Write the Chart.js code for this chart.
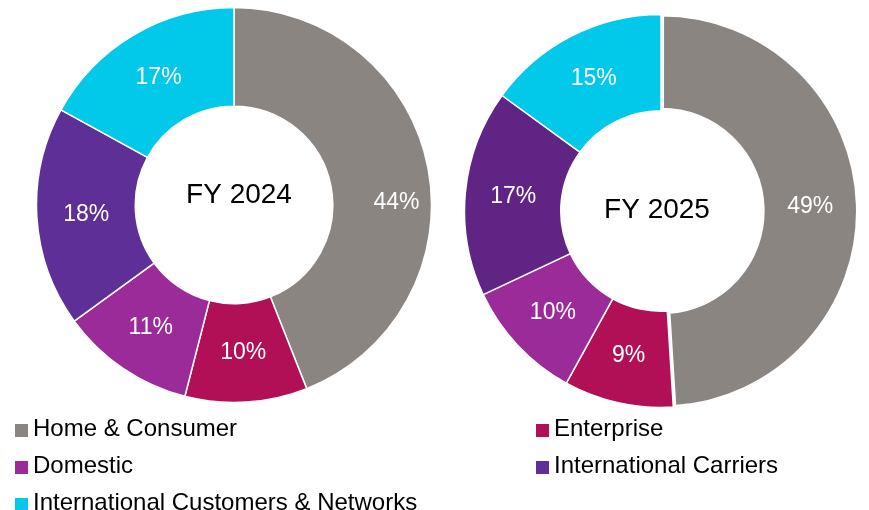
<!DOCTYPE html>
<html lang="en">
<head>
    <meta charset="UTF-8">
    <title>Revenue mix FY 2024 vs FY 2025</title>
    <script src="https://cdn.jsdelivr.net/npm/chart.js"></script>
    <style>
        body {
            margin: 0;
            width: 869px;
            height: 510px;
            background: #fff;
            font-family: "Liberation Sans", Arial, sans-serif;
            position: relative;
            overflow: hidden;
        }
        .donut {
            position: absolute;
            width: 400px;
            height: 400px;
        }
        #left-box { left: 34px; top: 5px; }
        #right-box { left: 461px; top: 11px; }
        #legend {
            position: absolute;
            left: 15px;
            top: 409px;
            width: 850px;
            display: grid;
            grid-template-columns: 521px auto;
        }
        .item {
            height: 37px;
            line-height: 37px;
            font-size: 24px;
            color: #000;
            white-space: nowrap;
        }
        .item span.box {
            display: inline-block;
            width: 13px;
            height: 13px;
            margin-right: 5px;
            vertical-align: -1px;
        }
    </style>
</head>
<body>
    <div class="donut" id="left-box"><canvas id="chart-2024" width="400" height="400"></canvas></div>
    <div class="donut" id="right-box"><canvas id="chart-2025" width="400" height="400"></canvas></div>
    <div id="legend"></div>

    <script>
        // Данные
        const categories = ['Home & Consumer', 'Enterprise', 'Domestic', 'International Carriers', 'International Customers & Networks'];
        const share2024 = [44, 10, 11, 18, 17];
        const share2025 = [49, 9, 10, 17, 15];
        const years = ['FY 2024', 'FY 2025'];

        const colors2024 = ['#8a8581', '#b10f56', '#9b2b98', '#5e2f96', '#02c8e9'];
        const colors2025 = ['#8a8581', '#b10f56', '#9b2b98', '#602584', '#02c8e9'];

        const FONT = '"Liberation Sans", Arial, sans-serif';

        // подписи долей и заголовок в центре
        const sliceLabels = {
            id: 'sliceLabels',
            afterDatasetsDraw(chart, args, opts) {
                const ctx = chart.ctx;
                const meta = chart.getDatasetMeta(0);
                const values = chart.data.datasets[0].data;
                ctx.save();
                ctx.textAlign = 'center';
                ctx.textBaseline = 'middle';
                ctx.fillStyle = '#fff';
                ctx.font = '23px ' + FONT;
                meta.data.forEach(function(arc, i) {
                    const p = arc.tooltipPosition();
                    const nudge = (opts.nudge && opts.nudge[i]) || [0, 0];
                    ctx.fillText(values[i] + '%', p.x + nudge[0], p.y + nudge[1]);
                });
                const c = meta.data[0];
                ctx.fillStyle = '#000';
                ctx.font = '28px ' + FONT;
                ctx.fillText(opts.title, c.x + opts.titleShift[0], c.y + opts.titleShift[1]);
                ctx.restore();
            }
        };

        function makeDonut(id, values, colors, cfg) {
            return new Chart(document.getElementById(id), {
                type: 'doughnut',
                data: {
                    labels: categories,
                    datasets: [{
                        data: values,
                        backgroundColor: colors,
                        borderColor: '#fff',
                        borderWidth: cfg.borderWidth,
                        offset: cfg.offset,
                        hoverOffset: 0
                    }]
                },
                options: {
                    responsive: false,
                    animation: false,
                    radius: cfg.radius,
                    cutout: cfg.cutout,
                    layout: { padding: 0 },
                    events: [],
                    plugins: {
                        legend: { display: false },
                        tooltip: { enabled: false },
                        sliceLabels: {
                            title: cfg.title,
                            titleShift: cfg.titleShift,
                            nudge: cfg.nudge
                        }
                    }
                },
                plugins: [sliceLabels]
            });
        }

        makeDonut('chart-2024', share2024, colors2024, {
            title: years[0],
            radius: 197.5,
            cutout: '50%',
            borderWidth: 1.5,
            offset: 0,
            titleShift: [5, -10],
            nudge: { 0: [17, 25] }
        });

        // серый сегмент чуть смещён и уже, как на исходнике
        makeDonut('chart-2025', share2025, colors2025, {
            title: years[1],
            radius: 196.5,
            cutout: '51%',
            borderWidth: [5, 1.5, 1.5, 1.5, 1.5],
            offset: [2, 0, 0, 0, 0],
            titleShift: [-4, -1],
            nudge: {}
        });

        // Легенда
        const legend = document.getElementById('legend');
        categories.forEach(function(name, i) {
            const item = document.createElement('div');
            item.className = 'item';
            const box = document.createElement('span');
            box.className = 'box';
            box.style.background = colors2024[i];
            item.appendChild(box);
            item.appendChild(document.createTextNode(name));
            legend.appendChild(item);
        });
    </script>
</body>
</html>
